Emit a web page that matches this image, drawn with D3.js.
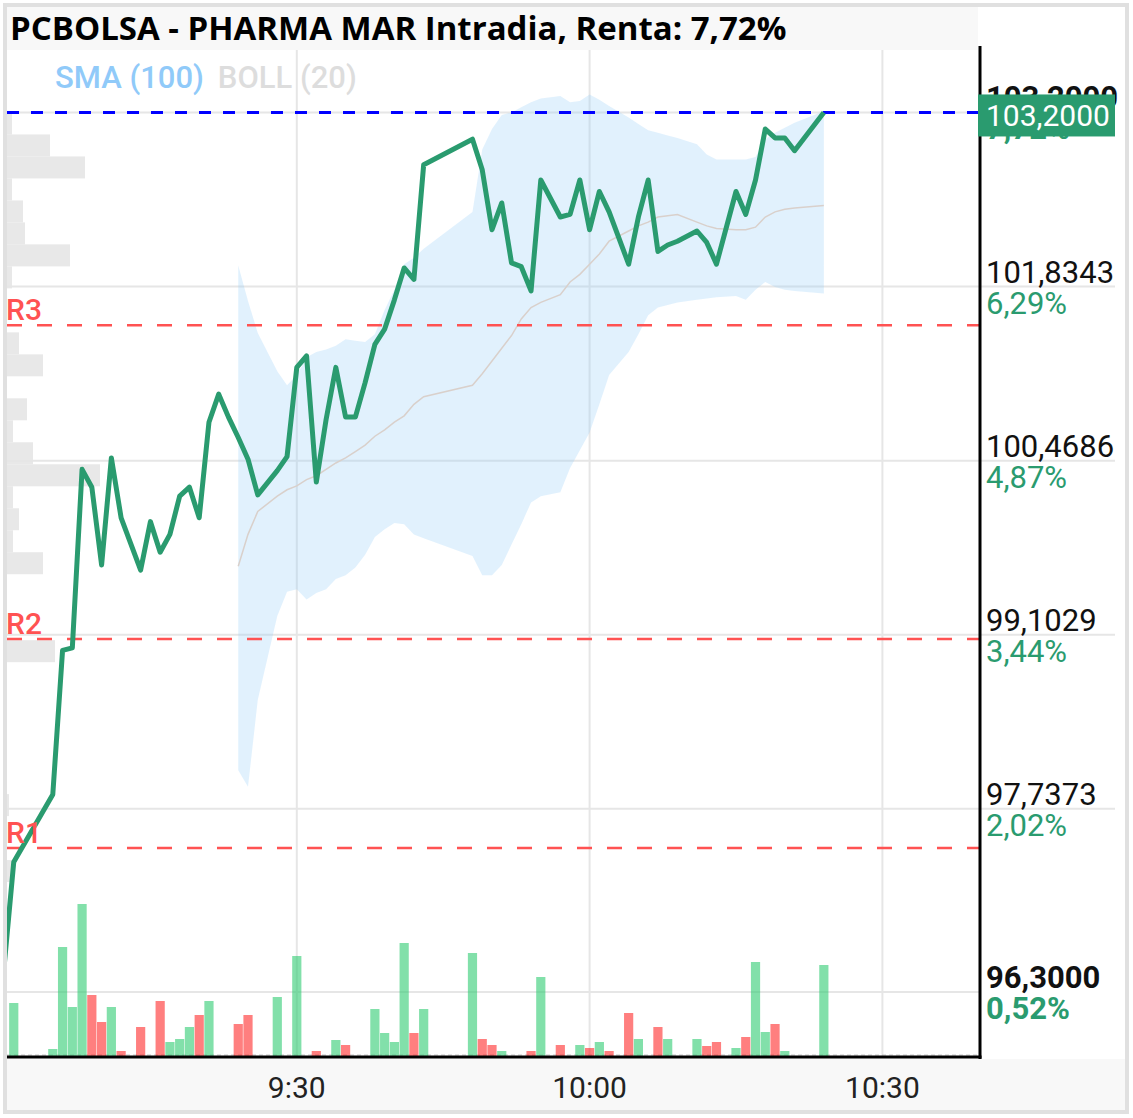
<!DOCTYPE html>
<html>
<head>
<meta charset="utf-8">
<script src="https://cdn.jsdelivr.net/npm/d3@7"></script>
<style>
  html, body { margin: 0; padding: 0; background: #fff; }
  svg { display: block; font-family: Roboto, "Noto Sans", sans-serif; }
</style>
</head>
<body>
<svg id="chart" width="1133" height="1118"></svg>
<script>
// minutes after 9:00 for every traded minute
var minutes = [0,1,5,6,7,8,9,10,11,12,14,15,16,17,18,19,20,21,22,23,
  24,25,26,28,29,30,31,32,33,34,35,36,37,38,39,40,41,42,43,48,
  49,50,51,52,53,54,55,57,58,59,60,61,62,64,65,66,67,68,69,71,
  72,73,75,76,77,78,79,80,81,84];
var closes = [96.49,97.32,97.85,98.98,99.00,100.40,100.26,99.65,100.49,100.02,
  99.61,99.99,99.75,99.89,100.19,100.26,100.02,100.77,100.99,100.81,
  100.65,100.48,100.20,100.39,100.50,101.20,101.29,100.30,100.79,101.20,
  100.81,100.81,101.08,101.38,101.50,101.73,101.98,101.89,102.79,102.99,
  102.75,102.28,102.49,102.02,101.99,101.80,102.67,102.38,102.40,102.67,
  102.28,102.58,102.42,102.01,102.38,102.67,102.11,102.16,102.19,102.27,
  102.18,102.01,102.58,102.40,102.67,103.07,103.00,103.00,102.90,103.20];
var volumes = [0,1325,175,2725,1225,3800,1525,850,1225,125,
  725,0,1375,350,425,725,1025,1375,0,0,
  800,1025,0,1475,0,2500,0,125,0,400,
  275,0,0,1175,575,350,2825,575,1175,2575,
  425,275,125,0,0,125,1975,275,0,275,
  200,350,125,1075,425,0,725,425,0,425,
  250,350,200,475,2350,600,800,125,0,2275];

// Bollinger (20)
var bandMinutes = [24,25,26,28,29,30,31,32,33,34,35,36,37,38,39,40,41,42,43,48,
  49,50,51,52,53,54,55,57,58,59,60,61,62,64,65,66,67,68,69,71,
  72,73,75,76,77,78,79,80,81,84];
var bandUpper = [102.00,101.72,101.47,101.17,101.06,101.14,101.28,101.32,101.34,101.37,
  101.42,101.41,101.40,101.46,101.65,101.81,102.01,102.06,102.13,102.42,
  102.91,103.07,103.18,103.20,103.24,103.28,103.31,103.33,103.28,103.29,
  103.34,103.30,103.25,103.16,103.11,103.06,103.04,103.02,103.00,102.95,
  102.87,102.83,102.83,102.83,102.85,102.99,103.04,103.08,103.12,103.21];
var bandMid = [99.64,99.89,100.07,100.19,100.24,100.27,100.32,100.35,100.40,100.45,
  100.49,100.54,100.59,100.66,100.71,100.77,100.82,100.91,100.97,101.06,
  101.15,101.25,101.35,101.45,101.58,101.67,101.71,101.77,101.87,101.93,
  102.01,102.09,102.19,102.27,102.31,102.34,102.38,102.39,102.40,102.34,
  102.31,102.29,102.28,102.28,102.30,102.38,102.42,102.44,102.45,102.47];
var bandLower = [98.04,97.91,98.59,99.25,99.44,99.46,99.38,99.43,99.46,99.54,
  99.57,99.63,99.73,99.87,99.93,99.98,99.97,99.89,99.86,99.72,
  99.57,99.57,99.65,99.81,99.97,100.14,100.19,100.22,100.41,100.55,
  100.69,100.91,101.14,101.32,101.46,101.61,101.67,101.69,101.71,101.73,
  101.74,101.75,101.76,101.73,101.81,101.87,101.83,101.81,101.80,101.78];

// volume profile, 40 price bins from the high (103,20) down to the low (96,30)
var profHigh = 103.2, profLow = 96.3;
var profile = [500,4300,7800,500,1600,1800,6300,500,0,0,
  1200,3600,0,2000,600,2600,9300,600,1200,600,
  3600,0,0,0,4800,0,0,0,0,0,
  0,200,0,0,600,0,0,0,0,0];

var pivotNames = ["R1","R2","R3"];
var pivotLevels = [97.43, 99.07, 101.53];

var yTicks = [96.3, 97.7373, 99.1029, 100.4686, 101.8343, 103.2];
var yTickLabels = ["96,3000","97,7373","99,1029","100,4686","101,8343","103,2000"];
var pctLabels = ["0,52%","2,02%","3,44%","4,87%","6,29%","7,72%"];
var lastPrice = 103.2, lastLabel = "103,2000";
var title = "PCBOLSA - PHARMA MAR Intradia, Renta: 7,72%";

var svg = d3.select("#chart");
var green = "#2a9b6f";
var L = 7, R = 980, T = 50, B = 1057;

function t(m) { return new Date(2024, 0, 2, 9, m); }
var x = d3.scaleTime().domain([t(0), t(100)]).range([4, 980]);
var y = d3.scaleLinear().domain([95.79, 103.69]).range([B, T]);
var yVol = d3.scaleLinear().domain([0, 3800]).range([1056, 904]);
var wProf = d3.scaleLinear().domain([0, 9300]).range([0, 93]);

svg.append("rect").attr("width", 1133).attr("height", 1118).attr("fill", "#fff");
svg.append("rect").attr("x", 7).attr("y", 7).attr("width", 971).attr("height", 43).attr("fill", "#f8f8f8");
svg.append("rect").attr("x", 7).attr("y", 1059).attr("width", 1119).attr("height", 51).attr("fill", "#f8f8f8");

// grid (behind everything)
var xTicks = [t(30), t(60), t(90)];
var grid = svg.append("g");
grid.selectAll(".vgrid").data(xTicks).enter().append("line")
  .attr("x1", d => x(d)).attr("x2", d => x(d)).attr("y1", T).attr("y2", B)
  .attr("stroke", "#e6e6e6").attr("stroke-width", 2);
grid.selectAll(".hgrid").data(yTicks).enter().append("line")
  .attr("x1", L).attr("y1", d => y(d)).attr("y2", d => y(d))
  .attr("x2", (d, i) => (i > 0 && i < yTicks.length - 1) ? 1115 : R)
  .attr("stroke", "#e6e6e6").attr("stroke-width", 2);

svg.append("clipPath").attr("id", "plotclip")
  .append("rect").attr("x", L).attr("y", T).attr("width", R - L).attr("height", B - T);
var g = svg.append("g").attr("clip-path", "url(#plotclip)");

// volume profile
var binH = (profHigh - profLow) / profile.length;
g.selectAll(".prof").data(profile).enter().append("rect")
  .attr("x", L)
  .attr("y", (d, i) => y(profHigh - i * binH))
  .attr("height", (d, i) => y(profHigh - (i + 1) * binH) - y(profHigh - i * binH))
  .attr("width", d => wProf(d))
  .attr("fill", "#e6e6e6").attr("fill-opacity", 0.9);

// bollinger band
var band = bandMinutes.map((m, i) => ({m: m, up: bandUpper[i], mid: bandMid[i], lo: bandLower[i]}));
g.append("path").datum(band)
  .attr("d", d3.area().x(d => x(t(d.m))).y0(d => y(d.lo)).y1(d => y(d.up)))
  .attr("fill", "#90caf9").attr("fill-opacity", 0.27);
g.append("path").datum(band)
  .attr("d", d3.line().x(d => x(t(d.m))).y(d => y(d.mid)))
  .attr("fill", "none").attr("stroke", "#d9d0cb").attr("stroke-width", 1.5);

// volume bars
var rows = minutes.map((m, i) => ({m: m, c: closes[i], v: volumes[i], up: i == 0 || closes[i] >= closes[i - 1]}));
g.append("line").attr("x1", L).attr("x2", R).attr("y1", 1055).attr("y2", 1055)
  .attr("stroke", "#c8c8c8").attr("stroke-width", 1).attr("stroke-dasharray", "4,3");
g.selectAll(".vol").data(rows.filter(d => d.v > 0)).enter().append("rect")
  .attr("x", d => x(t(d.m)) - 4.6)
  .attr("width", 9.2)
  .attr("y", d => yVol(d.v))
  .attr("height", d => 1056 - yVol(d.v))
  .attr("fill", d => d.up ? "#2ecc71" : "#ff0000")
  .attr("fill-opacity", d => d.up ? 0.6 : 0.5);

// pivot lines
g.selectAll(".piv").data(pivotLevels).enter().append("line")
  .attr("x1", L).attr("x2", R).attr("y1", d => y(d)).attr("y2", d => y(d))
  .attr("stroke", "#ff5252").attr("stroke-width", 2.5).attr("stroke-dasharray", "15,15");

// last price line
g.append("line").attr("x1", L).attr("x2", R).attr("y1", y(lastPrice)).attr("y2", y(lastPrice))
  .attr("stroke", "#0000ff").attr("stroke-width", 3).attr("stroke-dasharray", "12,12");

// price
g.append("path").datum(rows)
  .attr("d", d3.line().x(d => x(t(d.m))).y(d => y(d.c)))
  .attr("fill", "none").attr("stroke", green).attr("stroke-width", 5)
  .attr("stroke-linejoin", "round");

// pivot labels
svg.selectAll(".pivlab").data(pivotLevels).enter().append("text")
  .attr("x", 6).attr("y", d => y(d) - 5)
  .attr("fill", "#ff5252").attr("font-size", 30).attr("font-weight", 500)
  .text((d, i) => pivotNames[i]);

// legend
var leg = svg.append("text").attr("x", 55).attr("y", 88).attr("font-size", 31).attr("font-weight", 500);
leg.append("tspan").attr("fill", "#90caf9").text("SMA (100)");
leg.append("tspan").attr("fill", "#dddddd").attr("dx", 14).text("BOLL (20)");

// axes
svg.append("line").attr("x1", R).attr("x2", R).attr("y1", 46).attr("y2", 1059)
  .attr("stroke", "#000").attr("stroke-width", 3);
svg.append("line").attr("x1", L).attr("x2", R + 1.5).attr("y1", B).attr("y2", B)
  .attr("stroke", "#000").attr("stroke-width", 3);

// y labels
var yl = svg.selectAll(".ylab").data(yTicks).enter().append("g");
yl.append("text").attr("x", 986).attr("y", d => y(d) - 4)
  .attr("font-size", 31).attr("fill", "#111")
  .attr("font-weight", (d, i) => (i == 0 || i == yTicks.length - 1) ? 700 : 400)
  .text((d, i) => yTickLabels[i]);
yl.append("text").attr("x", 986).attr("y", d => y(d) + 27)
  .attr("font-size", 31).attr("fill", green)
  .attr("font-weight", (d, i) => (i == 0 || i == yTicks.length - 1) ? 700 : 400)
  .text((d, i) => pctLabels[i]);

// last price tag
svg.append("rect").attr("x", 978).attr("y", y(lastPrice) - 18).attr("width", 137).attr("height", 42)
  .attr("fill", green);
svg.append("text").attr("x", 986).attr("y", y(lastPrice) + 14)
  .attr("font-size", 30).attr("fill", "#fff").text(lastLabel);

// x labels
var fmt = d3.timeFormat("%-H:%M");
svg.selectAll(".xlab").data(xTicks).enter().append("text")
  .attr("x", d => x(d)).attr("y", 1098).attr("text-anchor", "middle")
  .attr("font-size", 30).attr("fill", "#222").text(d => fmt(d));

// title
svg.append("text").attr("x", 10).attr("y", 40)
  .attr("font-family", "'Open Sans', 'Noto Sans', sans-serif")
  .attr("font-size", 33).attr("font-weight", 700).attr("fill", "#000").text(title);

// frame
svg.append("rect").attr("x", 5).attr("y", 5).attr("width", 1122).attr("height", 1107)
  .attr("fill", "none").attr("stroke", "#e0e0e0").attr("stroke-width", 4);
</script>
</body>
</html>
